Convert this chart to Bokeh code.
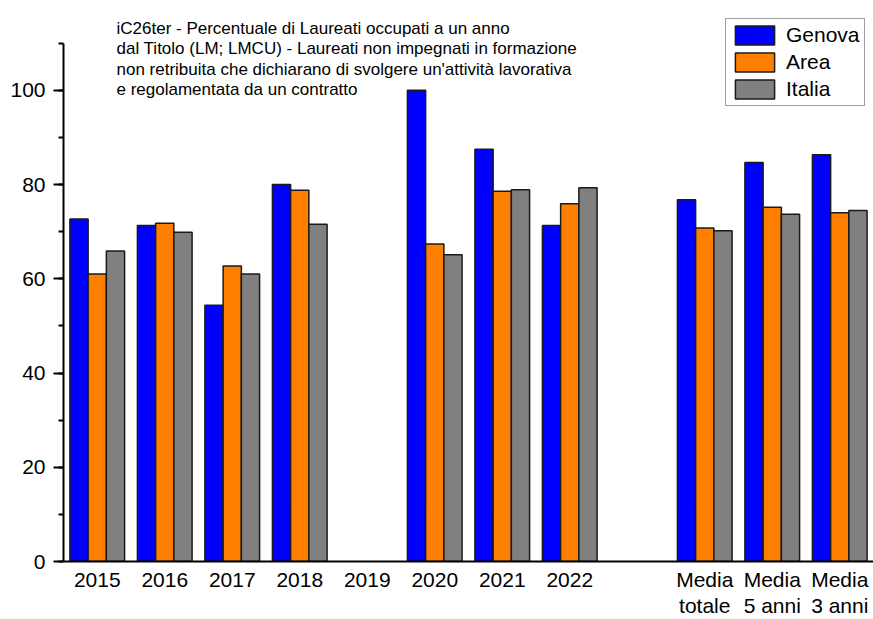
import math
from bokeh.plotting import figure
from bokeh.models import (Range1d, FixedTicker, SingleIntervalTicker, LinearAxis,
                          Legend, LegendItem, Label, ColumnDataSource)
from bokeh.transform import dodge
from bokeh.embed import file_html
from bokeh.resources import INLINE

nan = float("nan")

# ---- data ----
categories = ["2015", "2016", "2017", "2018", "2019", "2020", "2021", "2022", "",
              "Media\ntotale", "Media\n5 anni", "Media\n3 anni"]
genova = [72.7, 71.3, 54.4, 80.0, nan, 100.0, 87.5, 71.3, nan, 76.8, 84.7, 86.3]
area = [61.0, 71.8, 62.7, 78.8, nan, 67.4, 78.6, 75.9, nan, 70.8, 75.2, 74.0]
italia = [65.9, 69.9, 61.0, 71.6, nan, 65.1, 78.9, 79.3, nan, 70.2, 73.7, 74.5]
series_names = ["Genova", "Area", "Italia"]
title_lines = [
    "iC26ter - Percentuale di Laureati occupati a un anno",
    "dal Titolo (LM; LMCU) - Laureati non impegnati in formazione",
    "non retribuita che dichiarano di svolgere un'attività lavorativa",
    "e regolamentata da un contratto",
]

FONT = "Liberation Sans"
xs = list(range(len(categories)))
source = ColumnDataSource(dict(x=xs, genova=genova, area=area, italia=italia))

p = figure(width=873, height=619,
           x_range=Range1d(-0.5, 11.5), y_range=Range1d(0, 119.06),
           output_backend="svg", toolbar_location=None,
           x_axis_location=None, y_axis_location=None,
           min_border_left=63, min_border_right=0, min_border_top=0, min_border_bottom=0)
p.outline_line_color = None
for g in p.grid:
    g.visible = False

# axes
yaxis = LinearAxis(ticker=SingleIntervalTicker(interval=20, num_minor_ticks=2), bounds=(0, 110))
yaxis.axis_line_width = 2
yaxis.axis_line_color = "black"
yaxis.major_tick_line_color = "black"
yaxis.major_tick_line_width = 2
yaxis.minor_tick_line_color = "black"
yaxis.minor_tick_line_width = 2
yaxis.major_tick_out = 10
yaxis.major_tick_in = 0
yaxis.minor_tick_out = 5
yaxis.minor_tick_in = 0
yaxis.major_label_standoff = 8
yaxis.major_label_text_font = FONT
yaxis.major_label_text_font_size = "21px"
yaxis.major_label_text_color = "black"
p.add_layout(yaxis, "left")

xaxis = LinearAxis(ticker=FixedTicker(ticks=xs),
                   major_label_overrides={i: c for i, c in enumerate(categories)})
xaxis.axis_line_width = 2
xaxis.axis_line_color = "black"
xaxis.major_tick_line_color = None
xaxis.minor_tick_line_color = None
xaxis.major_tick_out = 0
xaxis.major_tick_in = 0
xaxis.major_label_standoff = 6
xaxis.major_label_text_font = FONT
xaxis.major_label_text_font_size = "21px"
xaxis.major_label_text_line_height = 1.15
xaxis.major_label_text_color = "black"
p.add_layout(xaxis, "below")

# bars
colors = ["#0000FF", "#FF8000", "#808080"]
cols = ["genova", "area", "italia"]
offsets = [-0.27, 0.0, 0.27]
renderers = []
for col, c, off in zip(cols, colors, offsets):
    r = p.vbar(x=dodge("x", off, range=p.x_range), top=col, bottom=0, width=0.27,
               source=source, fill_color=c, line_color="#1a1a1a", line_width=1.5)
    renderers.append(r)

legend = Legend(items=[LegendItem(label=n, renderers=[r]) for n, r in zip(series_names, renderers)],
                location=(662, 455), orientation="vertical",
                glyph_width=49, glyph_height=24, label_height=24, spacing=3,
                padding=4, margin=0, label_standoff=7,
                label_text_font=FONT, label_text_font_size="21px", label_text_color="black",
                border_line_color="#404040", border_line_width=1,
                background_fill_color="white", background_fill_alpha=1)
p.add_layout(legend)

# title block
title_x = -0.5 + (116 - 63) / 67.5
title_y = [113.14, 108.79, 104.44, 100.08]
for t, ty in zip(title_lines, title_y):
    p.add_layout(Label(x=title_x, y=ty, text=t, text_font=FONT, text_font_size="17px",
                       text_color="black", text_baseline="alphabetic", text_align="left"))

open("out.html", "w").write(file_html(p, INLINE))
